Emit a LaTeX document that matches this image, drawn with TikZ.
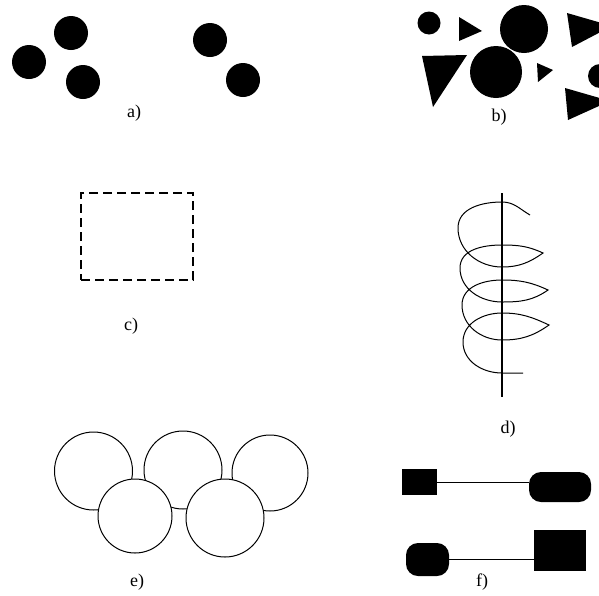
\documentclass[tikz,border=0pt]{standalone}
\usepackage{fontspec}
\setmainfont{Liberation Serif}
\tikzset{
  dot/.style={circle, fill=black, inner sep=0pt, minimum size=34pt},
  ring/.style={circle, draw, line width=1pt, fill=white, inner sep=0pt},
  blk/.style={fill=black, inner sep=0pt},
  pill/.style={fill=black, rounded corners=12pt, inner sep=0pt},
  dashbox/.style={draw, line width=1.2pt, dash pattern=on 9pt off 5pt, inner sep=0pt},
  wire/.style={line width=1pt},
  lbl/.style={font=\fontsize{18}{20}\selectfont}
}

\begin{document}
\begin{tikzpicture}[x=1pt, y=-1pt]
        \useasboundingbox (0,0) rectangle (599,595);
        \clip (0,0) rectangle (599,595);
        % a)
        \node[dot] (a1) at (29,62) {};
        \node[dot] (a2) at (71,33) {};
        \node[dot] (a3) at (83,82) {};
        \node[dot] (a4) at (210,40) {};
        \node[dot] (a5) at (243,80) {};
        \node[lbl] (la) at (134,113) {a)};
        % b)
        \node[dot, minimum size=23pt] (b1) at (429,23) {};
        \node[dot, minimum size=48pt] (b2) at (524,29) {};
        \node[dot, minimum size=52pt] (b3) at (496,72) {};
        \node[dot, minimum size=24pt] (b4) at (600,76) {};
        \fill (459,17) -- (482,31) -- (459,41) -- cycle;
        \fill (422,56) -- (467,55) -- (433,107) -- cycle;
        \fill (567,13) -- (612,26) -- (572,47) -- cycle;
        \fill (537,63) -- (553,70) -- (538,82) -- cycle;
        \fill (565,88) -- (610,101) -- (568,120) -- cycle;
        \node[lbl] (lb) at (499,117) {b)};
        % c)
        \node[dashbox, minimum width=112pt, minimum height=87pt] (rc) at (137,236.5) {};
        \node[lbl] (lc) at (131,326) {c)};
        % d)
        \draw[line width=1.2pt] (502,193) -- (502,397);
        \draw[wire] (530,215) to[out=150,in=0] (502,202) to[out=180,in=90] (458,228)
          to[out=270,in=180] (502,267) to[out=0,in=215] (543,253)
          to[out=155,in=0] (502,245) to[out=180,in=90] (460,268)
          to[out=270,in=180] (502,302) to[out=0,in=215] (548,290)
          to[out=155,in=0] (502,280) to[out=180,in=90] (462,305)
          to[out=270,in=180] (502,340) to[out=0,in=215] (549,325)
          to[out=155,in=0] (502,313) to[out=180,in=90] (463,342)
          to[out=270,in=180] (502,373) to[out=0,in=180] (523,373);
        \node[lbl] (ld) at (508,429) {d)};
        % e)
        \node[ring, minimum size=78pt] (e1) at (93.5,471) {};
        \node[ring, minimum size=78pt] (e2) at (183,470) {};
        \node[ring, minimum size=76pt] (e3) at (270,473) {};
        \node[ring, minimum size=74pt] (e4) at (135,516) {};
        \node[ring, minimum size=78pt] (e5) at (225,518) {};
        \node[lbl] (le) at (137,582) {e)};
        % f)
        \node[blk, minimum width=35pt, minimum height=26pt] (f1) at (419.5,482) {};
        \node[pill, minimum width=62pt, minimum height=30pt] (f2) at (560,487) {};
        \node[pill, minimum width=43pt, minimum height=33pt] (f3) at (427.5,559.5) {};
        \node[blk, minimum width=52pt, minimum height=41pt] (f4) at (560,550.5) {};
        \draw[wire] (f1) -- (f1 -| f2.west);
        \draw[wire] (f3) -- (f3 -| f4.west);
        \node[lbl] (lf) at (482,582) {f)};
      \end{tikzpicture}
\end{document}
